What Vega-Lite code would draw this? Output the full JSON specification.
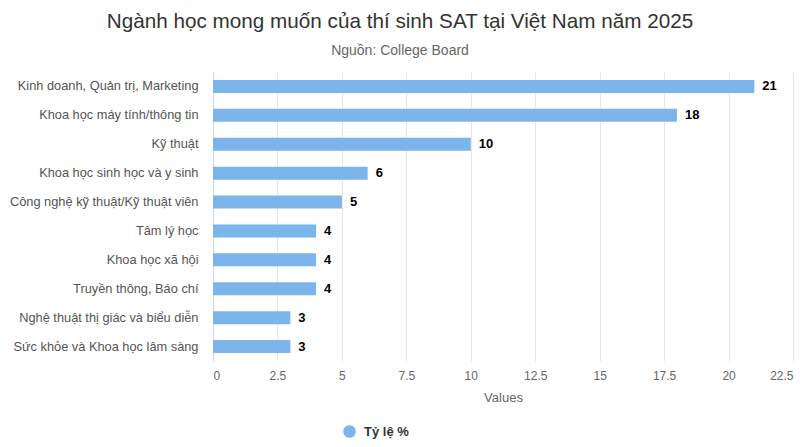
{
  "$schema": "https://vega.github.io/schema/vega-lite/v6.json",
  "width": 580,
  "height": 289,
  "autosize": {"type": "none"},
  "padding": {"left": 213, "top": 72, "right": 7, "bottom": 86},
  "background": "#ffffff",
  "title": {
    "text": "Ngành học mong muốn của thí sinh SAT tại Việt Nam năm 2025",
    "subtitle": "Nguồn: College Board",
    "anchor": "middle",
    "frame": "group",
    "dx": -103,
    "font": "Liberation Sans",
    "fontSize": 20.7,
    "fontWeight": "normal",
    "color": "#333333",
    "subtitleFont": "Liberation Sans",
    "subtitleFontSize": 14,
    "subtitleColor": "#666666",
    "subtitlePadding": 11,
    "offset": 13
  },
  "data": {
    "values": [
      {"nganh": "Kinh doanh, Quản trị, Marketing", "value": 21, "series": "Tỷ lệ %"},
      {"nganh": "Khoa học máy tính/thông tin", "value": 18, "series": "Tỷ lệ %"},
      {"nganh": "Kỹ thuật", "value": 10, "series": "Tỷ lệ %"},
      {"nganh": "Khoa học sinh học và y sinh", "value": 6, "series": "Tỷ lệ %"},
      {"nganh": "Công nghệ kỹ thuật/Kỹ thuật viên", "value": 5, "series": "Tỷ lệ %"},
      {"nganh": "Tâm lý học", "value": 4, "series": "Tỷ lệ %"},
      {"nganh": "Khoa học xã hội", "value": 4, "series": "Tỷ lệ %"},
      {"nganh": "Truyền thông, Báo chí", "value": 4, "series": "Tỷ lệ %"},
      {"nganh": "Nghệ thuật thị giác và biểu diễn", "value": 3, "series": "Tỷ lệ %"},
      {"nganh": "Sức khỏe và Khoa học lâm sàng", "value": 3, "series": "Tỷ lệ %"}
    ]
  },
  "encoding": {
    "y": {
      "field": "nganh",
      "type": "nominal",
      "sort": null,
      "axis": {
        "title": null,
        "ticks": false,
        "grid": false,
        "domain": true,
        "domainColor": "#ccd6eb",
        "domainWidth": 1,
        "labelPadding": 15,
        "labelFont": "Liberation Sans",
        "labelFontSize": 12.8,
        "labelColor": "#555555",
        "labelLimit": 300
      }
    },
    "x": {
      "field": "value",
      "type": "quantitative",
      "scale": {"domain": [0, 22.5], "nice": false},
      "axis": {
        "title": "Values",
        "values": [0, 2.5, 5, 7.5, 10, 12.5, 15, 17.5, 20, 22.5],
        "format": ".1~f",
        "domain": false,
        "ticks": false,
        "grid": true,
        "gridColor": "#e6e6e6",
        "labelFlush": true,
        "labelPadding": 9,
        "labelFont": "Liberation Sans",
        "labelFontSize": 12,
        "labelColor": "#666666",
        "titleFont": "Liberation Sans",
        "titleFontSize": 13,
        "titleFontWeight": "normal",
        "titleColor": "#666666",
        "titlePadding": 10
      }
    }
  },
  "layer": [
    {
      "mark": {"type": "bar", "size": 13},
      "encoding": {
        "color": {
          "field": "series",
          "type": "nominal",
          "scale": {"range": ["#7cb5ec"]},
          "legend": {
            "title": null,
            "orient": "none",
            "legendX": 130,
            "legendY": 353,
            "symbolType": "circle",
            "symbolSize": 160,
            "symbolStrokeWidth": 0,
            "labelFont": "Liberation Sans",
            "labelFontSize": 13,
            "labelFontWeight": "bold",
            "labelColor": "#333333",
            "labelOffset": 8
          }
        }
      }
    },
    {
      "mark": {
        "type": "text",
        "align": "left",
        "baseline": "middle",
        "dx": 8,
        "font": "Liberation Sans",
        "fontSize": 13,
        "fontWeight": "bold",
        "color": "#000000"
      },
      "encoding": {"text": {"field": "value", "type": "quantitative"}}
    }
  ],
  "config": {
    "view": {"stroke": null},
    "scale": {"bandPaddingInner": 0.5}
  }
}
